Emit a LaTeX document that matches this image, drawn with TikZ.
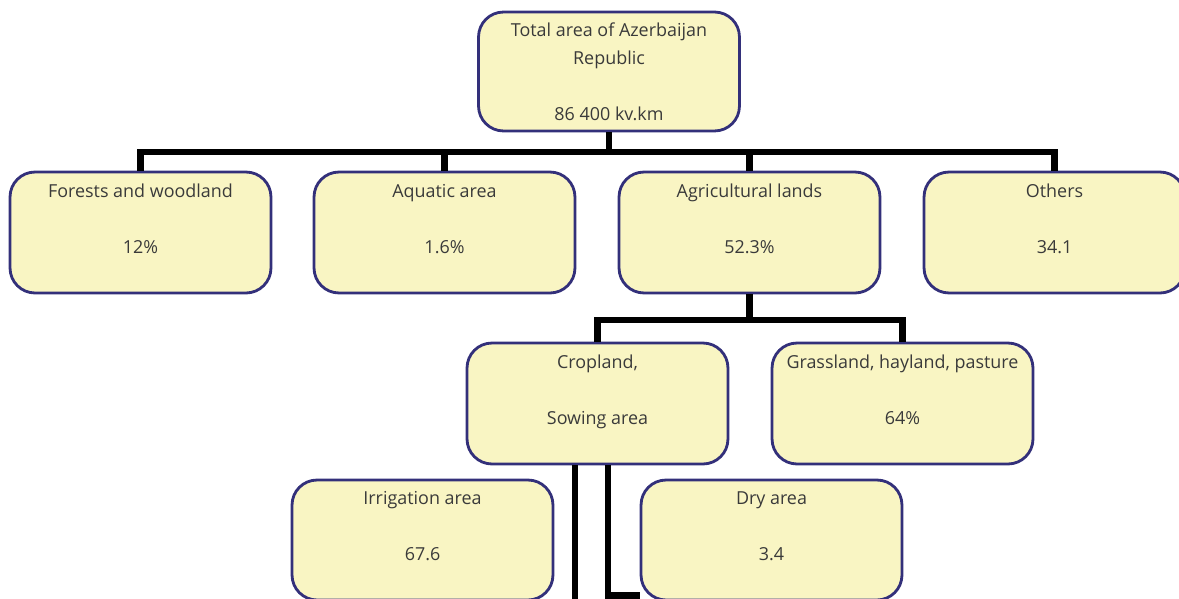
\documentclass[tikz,border=0pt]{standalone}
\usepackage{fontspec}
\setmainfont{Open Sans}
\usetikzlibrary{positioning}

\definecolor{boxfill}{HTML}{F9F5C3}
\definecolor{boxline}{HTML}{33307A}
\definecolor{boxtext}{HTML}{3A3A3A}

\begin{document}
\begin{tikzpicture}[x=0.02cm, y=-0.02cm,
  area/.style={draw=boxline, fill=boxfill, line width=1.6pt, rounded corners=0.5cm,
    minimum width=5.22cm, minimum height=2.42cm, align=center, text=boxtext,
    font=\fontsize{10.2}{15.9}\selectfont, inner sep=0pt},
  conn/.style={line width=3.6pt, black}]

  % page size, the lowest boxes run off the bottom edge
  \useasboundingbox (0,0) rectangle (1179,598);
  \clip (0,0) rectangle (1179,598);

  % Top box
  \node[area, minimum height=2.38cm] (total) at (609,71.5)
    {Total area of Azerbaijan\\Republic\\ \\86 400 kv.km};

  % Second row
  \node[area] (forest)  at (140.5,232.5)  {Forests and woodland\\ \\12\%\\ \mbox{}};
  \node[area] (aquatic) at (444.5,232.5)  {Aquatic area\\ \\1.6\%\\ \mbox{}};
  \node[area] (agri)    at (749.5,232.5)  {Agricultural lands\\ \\52.3\%\\ \mbox{}};
  \node[area] (others)  at (1054.5,232.5) {Others\\ \\34.1\\ \mbox{}};

  % Third row
  \node[area] (crop)  at (597.5,403.5) {Cropland,\\ \\Sowing area\\ \mbox{}};
  \node[area] (grass) at (902.5,403.5) {Grassland, hayland, pasture\\ \\64\%\\ \mbox{}};

  % Fourth row
  \node[area, minimum height=2.4cm] (irrig) at (422.5,540) {Irrigation area\\ \\67.6\\ \mbox{}};
  \node[area, minimum height=2.4cm] (dry)   at (771.5,540) {Dry area\\ \\3.4\\ \mbox{}};

  % Connectors from the top box
  \coordinate (bus1) at (609,152);
  \draw[conn] (total.south) -- (bus1);
  \draw[conn] (forest.north) |- (bus1) -| (others.north);
  \draw[conn] (aquatic.north) -- (aquatic.north |- bus1);
  \draw[conn] (agri.north) -- (agri.north |- bus1);

  % Connectors from agricultural lands
  \coordinate (bus2) at (749.5,320);
  \draw[conn] (agri.south) -- (bus2);
  \draw[conn] (crop.north) |- (bus2) -| (grass.north);

  % Connectors from cropland
  \coordinate (irrdrop) at (575,610);
  \draw[conn] (crop.south -| irrdrop) -- (irrdrop);
  \draw[conn] ([xshift=0.21cm]crop.south) |- ([yshift=0.12cm]dry.south west);

\end{tikzpicture}
\end{document}
